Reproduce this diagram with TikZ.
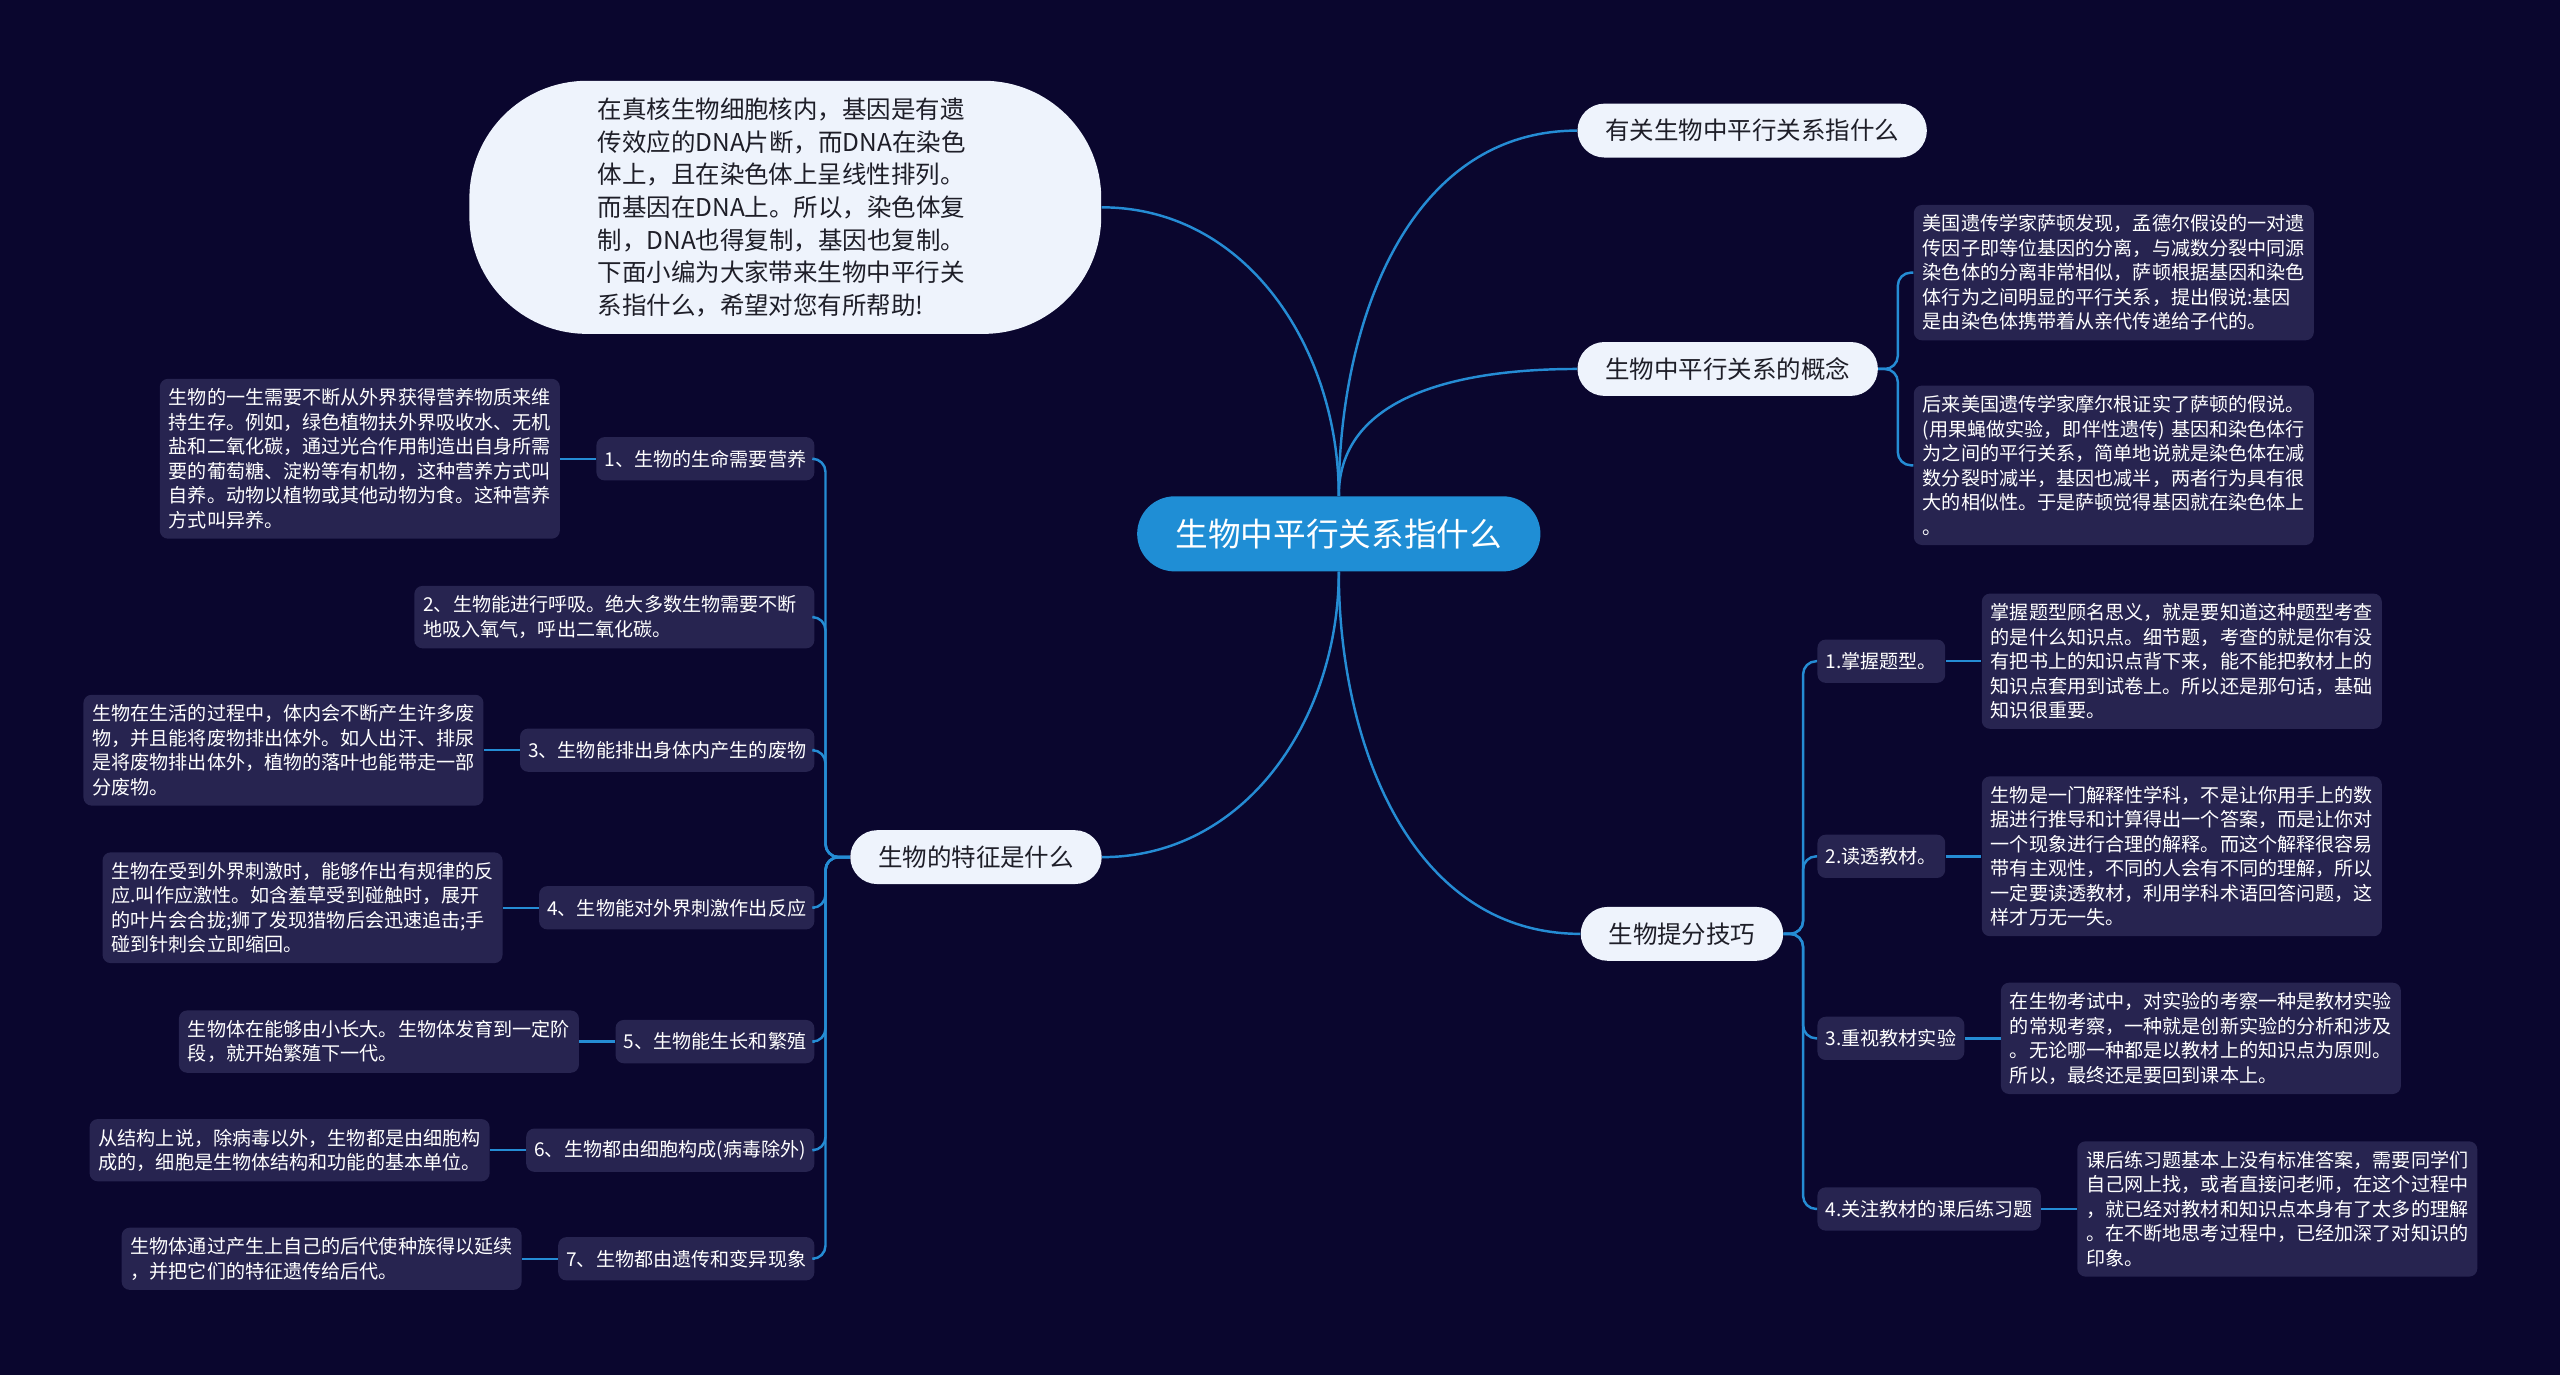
\documentclass[tikz,border=0pt]{standalone}
\usepackage{fontspec}
\setmainfont{Noto Sans CJK SC}
\usetikzlibrary{positioning}

\definecolor{bg}{RGB}{10,6,46}
\definecolor{card}{RGB}{39,36,80}
\definecolor{paper}{RGB}{238,243,252}
\definecolor{ink}{RGB}{30,30,40}
\definecolor{rootblue}{RGB}{31,142,213}
\definecolor{linkblue}{RGB}{37,140,212}

\begin{document}
\begin{tikzpicture}[x=1pt,y=1pt,
 root/.style={fill=rootblue,text=white,rounded corners=23pt,minimum width=247pt,minimum height=46pt,font=\fontsize{20}{24}\selectfont},
 intro/.style={fill=paper,text=ink,rounded corners=72pt,minimum width=387pt,minimum height=155pt,text width=230pt,align=left,font=\fontsize{15}{20}\selectfont},
 topic/.style={fill=paper,text=ink,rounded corners=16.5pt,minimum height=33pt,inner xsep=17pt,font=\fontsize{15}{18}\selectfont},
 sub/.style={fill=card,text=white,rounded corners=5pt,minimum height=26.5pt,inner xsep=5pt,font=\fontsize{11.7}{15}\selectfont},
 note/.style={fill=card,text=white,rounded corners=5pt,text width=234pt,inner xsep=5.5pt,inner ysep=6pt,align=left,font=\fontsize{11.7}{15}\selectfont},
 link/.style={draw=linkblue,line width=1.5pt},
 node distance=22pt]
\useasboundingbox (0,0) rectangle (1568,842);
\fill[bg] (0,0) rectangle (1568,842);

% centre and first level
\node[root] (root) at (820,515) {生物中平行关系指什么};
\node[intro] (intro) at (481,715) {在真核生物细胞核内，基因是有遗\\传效应的DNA片断，而DNA在染色\\体上，且在染色体上呈线性排列。\\而基因在DNA上。所以，染色体复\\制，DNA也得复制，基因也复制。\\下面小编为大家带来生物中平行关\\系指什么，希望对您有所帮助!};
\node[topic,anchor=west] (rel) at (966,762) {有关生物中平行关系指什么};
\node[topic,anchor=west] (concept) at (966,616) {生物中平行关系的概念};
\node[topic,anchor=west] (skill) at (968,270) {生物提分技巧};
\node[topic,anchor=east] (feature) at (675,317) {生物的特征是什么};

\draw[link] (root.north) to[out=90,in=0] (intro.east);
\draw[link] (root.north) to[out=90,in=180] (rel.west);
\draw[link] (root.north) to[out=90,in=180] (concept.west);
\draw[link] (root.south) to[out=-90,in=0] (feature.east);
\draw[link] (root.south) to[out=-90,in=180] (skill.west);

% concept
\node[note,anchor=west] (cd1) at (1172,675) {美国遗传学家萨顿发现，孟德尔假设的一对遗\\传因子即等位基因的分离，与减数分裂中同源\\染色体的分离非常相似，萨顿根据基因和染色\\体行为之间明显的平行关系，提出假说:基因\\是由染色体携带着从亲代传递给子代的。};
\node[note,anchor=west] (cd2) at (1172,557) {后来美国遗传学家摩尔根证实了萨顿的假说。\\\mbox{(用果蝇做实验，即伴性遗传) 基因和染色体行}\\为之间的平行关系，简单地说就是染色体在减\\数分裂时减半，基因也减半，两者行为具有很\\大的相似性。于是萨顿觉得基因就在染色体上\\。};
\draw[link,rounded corners=8pt] (concept.east) -- ++(12,0) |- (cd1.west);
\draw[link,rounded corners=8pt] (concept.east) -- ++(12,0) |- (cd2.west);

% skills
\node[sub,anchor=west] (s1) at (1113,437) {1.掌握题型。};
\node[sub,anchor=west] (s2) at (1113,317.5) {2.读透教材。};
\node[sub,anchor=west] (s3) at (1113,206) {3.重视教材实验};
\node[sub,anchor=west] (s4) at (1113,101.5) {4.关注教材的课后练习题};
\node[note,right=of s1] (s1d) {掌握题型顾名思义，就是要知道这种题型考查\\的是什么知识点。细节题，考查的就是你有没\\有把书上的知识点背下来，能不能把教材上的\\知识点套用到试卷上。所以还是那句话，基础\\知识很重要。};
\node[note,right=of s2] (s2d) {生物是一门解释性学科，不是让你用手上的数\\据进行推导和计算得出一个答案，而是让你对\\一个现象进行合理的解释。而这个解释很容易\\带有主观性，不同的人会有不同的理解，所以\\一定要读透教材，利用学科术语回答问题，这\\样才万无一失。};
\node[note,right=of s3] (s3d) {在生物考试中，对实验的考察一种是教材实验\\的常规考察，一种就是创新实验的分析和涉及\\。无论哪一种都是以教材上的知识点为原则。\\所以，最终还是要回到课本上。};
\node[note,right=of s4] (s4d) {课后练习题基本上没有标准答案，需要同学们\\自己网上找，或者直接问老师，在这个过程中\\，就已经对教材和知识点本身有了太多的理解\\。在不断地思考过程中，已经加深了对知识的\\印象。};
\draw[link,rounded corners=8pt] (skill.east) -- ++(12,0) |- (s1.west);
\draw[link,rounded corners=8pt] (skill.east) -- ++(12,0) |- (s2.west);
\draw[link,rounded corners=8pt] (skill.east) -- ++(12,0) |- (s3.west);
\draw[link,rounded corners=8pt] (skill.east) -- ++(12,0) |- (s4.west);
\draw[link] (s1) -- (s1d);
\draw[link] (s2) -- (s2d);
\draw[link] (s3) -- (s3d);
\draw[link] (s4) -- (s4d);

% features
\node[sub,anchor=east] (f1) at (499,561) {1、生物的生命需要营养};
\node[note,anchor=east] (f2) at (499,464) {2、生物能进行呼吸。绝大多数生物需要不断\\地吸入氧气，呼出二氧化碳。};
\node[sub,anchor=east] (f3) at (499,382.5) {3、生物能排出身体内产生的废物};
\node[sub,anchor=east] (f4) at (499,286) {4、生物能对外界刺激作出反应};
\node[sub,anchor=east] (f5) at (499,204) {5、生物能生长和繁殖};
\node[sub,anchor=east] (f6) at (499,137.5) {6、生物都由细胞构成(病毒除外)};
\node[sub,anchor=east] (f7) at (499,71) {7、生物都由遗传和变异现象};
\node[note,left=of f1] (f1d) {生物的一生需要不断从外界获得营养物质来维\\持生存。例如，绿色植物扶外界吸收水、无机\\盐和二氧化碳，通过光合作用制造出自身所需\\要的葡萄糖、淀粉等有机物，这种营养方式叫\\自养。动物以植物或其他动物为食。这种营养\\方式叫异养。};
\node[note,left=of f3] (f3d) {生物在生活的过程中，体内会不断产生许多废\\物，并且能将废物排出体外。如人出汗、排尿\\是将废物排出体外，植物的落叶也能带走一部\\分废物。};
\node[note,left=of f4] (f4d) {生物在受到外界刺激时，能够作出有规律的反\\应.叫作应激性。如含羞草受到碰触时，展开\\的叶片会合拢;狮了发现猎物后会迅速追击;手\\碰到针刺会立即缩回。};
\node[note,left=of f5] (f5d) {生物体在能够由小长大。生物体发育到一定阶\\段，就开始繁殖下一代。};
\node[note,left=of f6] (f6d) {从结构上说，除病毒以外，生物都是由细胞构\\成的，细胞是生物体结构和功能的基本单位。};
\node[note,left=of f7] (f7d) {生物体通过产生上自己的后代使种族得以延续\\，并把它们的特征遗传给后代。};
\draw[link,rounded corners=8pt] (feature.west) -- ++(-15,0) |- (f1.east);
\draw[link,rounded corners=8pt] (feature.west) -- ++(-15,0) |- (f2.east);
\draw[link,rounded corners=8pt] (feature.west) -- ++(-15,0) |- (f3.east);
\draw[link,rounded corners=8pt] (feature.west) -- ++(-15,0) |- (f4.east);
\draw[link,rounded corners=8pt] (feature.west) -- ++(-15,0) |- (f5.east);
\draw[link,rounded corners=8pt] (feature.west) -- ++(-15,0) |- (f6.east);
\draw[link,rounded corners=8pt] (feature.west) -- ++(-15,0) |- (f7.east);
\draw[link] (f1) -- (f1d);
\draw[link] (f3) -- (f3d);
\draw[link] (f4) -- (f4d);
\draw[link] (f5) -- (f5d);
\draw[link] (f6) -- (f6d);
\draw[link] (f7) -- (f7d);
\end{tikzpicture}
\end{document}
